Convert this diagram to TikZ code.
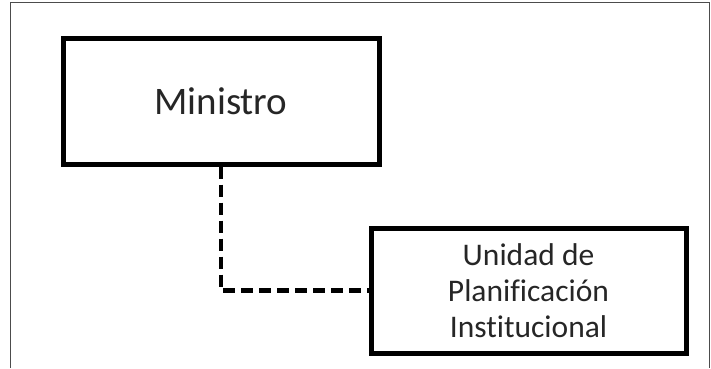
\documentclass[tikz,border=0pt]{standalone}
\usepackage{fontspec}
\setmainfont{Carlito}[Ligatures=NoCommon]
\begin{document}
\begin{tikzpicture}[x=1pt,y=1pt,
  box/.style={draw=black, line width=5pt, fill=white, inner sep=0pt, text=black!85},
  link/.style={draw=black, line width=4.5pt, dash pattern=on 12pt off 6pt}]
\useasboundingbox (0,0) rectangle (711,368);
\fill[white] (0,0) rectangle (711,368);
\draw[black!70, line width=1pt] (10,0) -- (10,366) -- (709,366) -- (709,0);
\node[box, minimum width=316pt, minimum height=126pt, font=\fontsize{39}{44}\selectfont] (m) at (221,267) {Ministro};
\node[box, minimum width=315pt, minimum height=125pt, align=center, font=\fontsize{31.5}{36}\selectfont] (u) at (528.5,77.5) {Unidad de\\Planificación\\Institucional};
\draw[link] (m.south) |- (u.west);
\end{tikzpicture}
\end{document}
